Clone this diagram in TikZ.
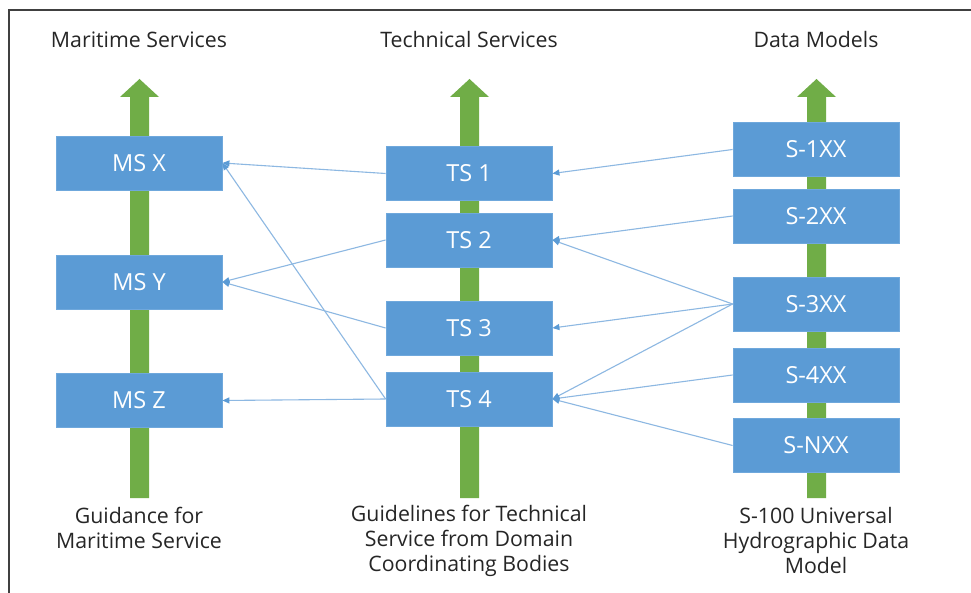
\documentclass[tikz,border=0pt]{standalone}
\usepackage{fontspec}
\setmainfont{Open Sans}
\usetikzlibrary{arrows.meta}
\definecolor{boxblue}{HTML}{5B9BD5}
\definecolor{boxedge}{HTML}{6FA8DC}
\definecolor{linkblue}{HTML}{8DB8E2}
\definecolor{tipblue}{HTML}{5B9BD5}
\definecolor{arrgreen}{HTML}{70AD47}
\definecolor{txtgray}{HTML}{262626}
\tikzset{
  blk/.style={draw=boxedge, line width=0.8pt, fill=boxblue, minimum width=166pt, minimum height=54pt, inner sep=0pt, text=white, font=\fontsize{23.5}{26}\selectfont},
  ttl/.style={text=txtgray, font=\fontsize{21.3}{24}\selectfont},
  captxt/.style={text=txtgray, align=center, font=\fontsize{21.3}{25}\selectfont},
  link/.style={draw=linkblue, line width=1.1pt, -{Triangle[length=7pt,width=6pt,fill=tipblue,color=tipblue]}},
  upar/.style={fill=arrgreen, draw=none}
}
\begin{document}
\begin{tikzpicture}[x=1pt,y=-1pt]
\useasboundingbox (0,0) rectangle (971,593);
\fill[white] (0,0) rectangle (971,593);
\draw[line width=1.3pt, draw=black!75] (9,593) -- (9,10) -- (971,10);
% green arrows
\foreach \cx in {139.5,469.5,816.5}{
  \path[upar] (\cx-9.5,498) -- (\cx-9.5,97) -- (\cx-19.5,97) -- (\cx,79) -- (\cx+19.5,97) -- (\cx+9.5,97) -- (\cx+9.5,498) -- cycle;
}
% titles
\node[ttl] (t1) at (139,40) {Maritime Services};
\node[ttl] (t2) at (469,40) {Technical Services};
\node[ttl] (t3) at (816,40) {Data Models};
% boxes
\node[blk] (msx) at (139,163) {MS X};
\node[blk] (msy) at (139,282) {MS Y};
\node[blk] (msz) at (139,400.5) {MS Z};
\node[blk] (ts1) at (469,173.5) {TS 1};
\node[blk] (ts2) at (469,240) {TS 2};
\node[blk] (ts3) at (469,328) {TS 3};
\node[blk] (ts4) at (469,399) {TS 4};
\node[blk] (s1) at (816,149.5) {S-1XX};
\node[blk] (s2) at (816,216) {S-2XX};
\node[blk] (s3) at (816,304) {S-3XX};
\node[blk] (s4) at (816,375) {S-4XX};
\node[blk] (sn) at (816,445.5) {S-NXX};
% captions
\node[captxt] (c1) at (139,528) {Guidance for\\Maritime Service};
\node[captxt] (c2) at (469,540.5) {Guidelines for Technical\\Service from Domain\\Coordinating Bodies};
\node[captxt] (c3) at (816,540.5) {S-100 Universal\\Hydrographic Data\\Model};
% links
\draw[link] (ts1.west) -- (msx.east);
\draw[link] (ts4.west) -- (msx.east);
\draw[link] (ts2.west) -- (msy.east);
\draw[link] (ts3.west) -- (msy.east);
\draw[link] (ts4.west) -- (msz.east);
\draw[link] (s1.west) -- (ts1.east);
\draw[link] (s2.west) -- (ts2.east);
\draw[link] (s3.west) -- (ts2.east);
\draw[link] (s3.west) -- (ts3.east);
\draw[link] (s3.west) -- (ts4.east);
\draw[link] (s4.west) -- (ts4.east);
\draw[link] (sn.west) -- (ts4.east);
\end{tikzpicture}
\end{document}
